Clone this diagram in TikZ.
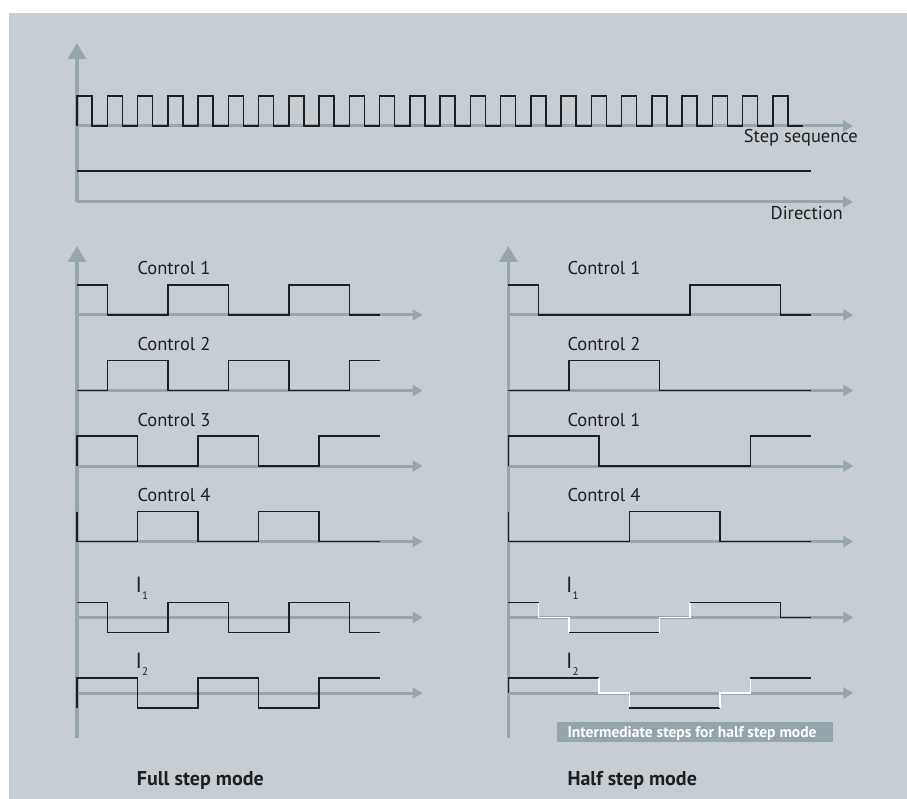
\documentclass[tikz,border=0pt]{standalone}
\usepackage{fontspec}
\setmainfont{PT Sans}
\usetikzlibrary{arrows.meta}
\definecolor{bgc}{HTML}{C6CED4}
\definecolor{axisc}{HTML}{97A5AC}
\definecolor{boxc}{HTML}{95A3AA}
\definecolor{wave}{HTML}{1E1E1E}
\begin{document}
\begin{tikzpicture}[x=1pt,y=-1pt,
  haxis/.style={draw=axisc, line width=3pt, -{Triangle[length=10pt,width=11pt]}},
  vaxis/.style={draw=axisc, line width=3.2pt, -{Triangle[length=16pt,width=18pt]}},
  sig/.style={draw=wave, line width=1.5pt, line join=miter},
  inter/.style={draw=white, line width=1.6pt, line join=miter},
  lbl/.style={anchor=base west, font=\fontsize{18.5}{20}\selectfont, text=wave, inner sep=0pt},
  ilbl/.style={anchor=base west, font=\fontsize{22}{23}\selectfont, text=wave, inner sep=0pt},
  title/.style={anchor=base west, font=\fontsize{20}{22}\selectfont\bfseries, text=wave, inner sep=0pt},
  boxlbl/.style={anchor=base west, font=\fontsize{15.5}{17}\selectfont\bfseries, text=white, inner sep=0pt}
]
\useasboundingbox (0,0) rectangle (907,799);
\fill[bgc] (9,13) rectangle (907,799);

% ---------- top section ----------
\draw[vaxis] (77,202) -- (77,43);
\draw[haxis] (77,126) -- (853,126);
\draw[haxis] (77,202) -- (853,202);
\begin{scope}[shift={(77,0)}, x=15.125pt]
  \draw[sig] (0,126) \foreach \i in {0,...,23} { -- (2*\i,96) -- (2*\i+1,96) -- (2*\i+1,126) -- (2*\i+2,126) };
\end{scope}
\draw[sig] (77,171) -- (811,171);
\node[lbl, anchor=base east] (stepseq) at (858,143) {Step sequence};
\node[lbl, anchor=base east] (direction) at (843,219.3) {Direction};

% ---------- axes lower ----------
\draw[vaxis] (77,738) -- (77,246);
\draw[vaxis] (508.3,738) -- (508.3,246);
\foreach \b in {315,390.5,466,541.5,617.5,693} {
  \draw[haxis] (77,\b) -- (422.5,\b);
  \draw[haxis] (508.3,\b) -- (853.3,\b);
}

% ---------- full step mode ----------
\begin{scope}[shift={(77,0)}, x=30.25pt]
  \draw[sig] (0,285) -- (1,285) -- (1,315) -- (3,315) -- (3,285) -- (5,285) -- (5,315) -- (7,315) -- (7,285) -- (9,285) -- (9,315) -- (10,315);
  \draw[sig] (0,390.5) -- (1,390.5) -- (1,360.5) -- (3,360.5) -- (3,390.5) -- (5,390.5) -- (5,360.5) -- (7,360.5) -- (7,390.5) -- (9,390.5) -- (9,360.5) -- (10,360.5);
  \draw[sig] (0,466) -- (0,436) -- (2,436) -- (2,466) -- (4,466) -- (4,436) -- (6,436) -- (6,466) -- (8,466) -- (8,436) -- (10,436);
  \draw[sig] (0,511.5) -- (0,541.5) -- (2,541.5) -- (2,511.5) -- (4,511.5) -- (4,541.5) -- (6,541.5) -- (6,511.5) -- (8,511.5) -- (8,541.5) -- (10,541.5);
  \draw[sig] (0,602.5) -- (1,602.5) -- (1,632.5) -- (3,632.5) -- (3,602.5) -- (5,602.5) -- (5,632.5) -- (7,632.5) -- (7,602.5) -- (9,602.5) -- (9,632.5) -- (10,632.5);
  \draw[sig] (0,708) -- (0,678) -- (2,678) -- (2,708) -- (4,708) -- (4,678) -- (6,678) -- (6,708) -- (8,708) -- (8,678) -- (10,678);
\end{scope}
\node[lbl] (lc1) at (137.3,275) {Control 1};
\node[lbl] (lc2) at (137.3,350.5) {Control 2};
\node[lbl] (lc3) at (137.3,426) {Control 3};
\node[lbl] (lc4) at (137.3,501.5) {Control 4};
\node[ilbl] (li1) at (135.5,592) {I\raisebox{-7pt}{\fontsize{11}{12}\selectfont 1}};
\node[ilbl] (li2) at (135.5,668) {I\raisebox{-7pt}{\fontsize{11}{12}\selectfont 2}};
\node[title] (full) at (136.7,785) {Full step mode};

% ---------- half step mode ----------
\begin{scope}[shift={(508.3,0)}, x=30.25pt]
  \draw[sig] (0,285) -- (1,285) -- (1,315) -- (6,315) -- (6,285) -- (9,285) -- (9,315) -- (10,315);
  \draw[sig] (0,390.5) -- (2,390.5) -- (2,360.5) -- (5,360.5) -- (5,390.5) -- (10,390.5);
  \draw[sig] (0,466) -- (0,436) -- (3,436) -- (3,466) -- (8,466) -- (8,436) -- (10,436);
  \draw[sig] (0,511.5) -- (0,541.5) -- (4,541.5) -- (4,511.5) -- (7,511.5) -- (7,541.5) -- (10,541.5);
  % I1
  \draw[sig] (0,602.5) -- (1,602.5);
  \draw[inter] (1,602.5) -- (1,617.5) -- (2,617.5) -- (2,632.5);
  \draw[sig] (2,632.5) -- (5,632.5);
  \draw[inter] (5,632.5) -- (5,617.5) -- (6,617.5) -- (6,602.5);
  \draw[sig] (6,602.5) -- (9,602.5) -- (9,617.5) -- (10,617.5);
  % I2
  \draw[sig] (0,693) -- (0,678) -- (3,678);
  \draw[inter] (3,678) -- (3,693) -- (4,693) -- (4,708);
  \draw[sig] (4,708) -- (7,708);
  \draw[inter] (7,708) -- (7,693) -- (8,693) -- (8,678);
  \draw[sig] (8,678) -- (10,678);
\end{scope}
\node[lbl] (rc1) at (567.3,275) {Control 1};
\node[lbl] (rc2) at (567.3,350.5) {Control 2};
\node[lbl] (rc3) at (567.3,426) {Control 1};
\node[lbl] (rc4) at (567.3,501.5) {Control 4};
\node[ilbl] (ri1) at (566,592) {I\raisebox{-7pt}{\fontsize{11}{12}\selectfont 1}};
\node[ilbl] (ri2) at (566,668) {I\raisebox{-7pt}{\fontsize{11}{12}\selectfont 2}};
\fill[boxc] (557,722) rectangle (832.7,741.7);
\node[boxlbl] (inter) at (567.3,737.3) {Intermediate steps for half step mode};
\node[title] (half) at (567.3,785) {Half step mode};
\end{tikzpicture}
\end{document}
